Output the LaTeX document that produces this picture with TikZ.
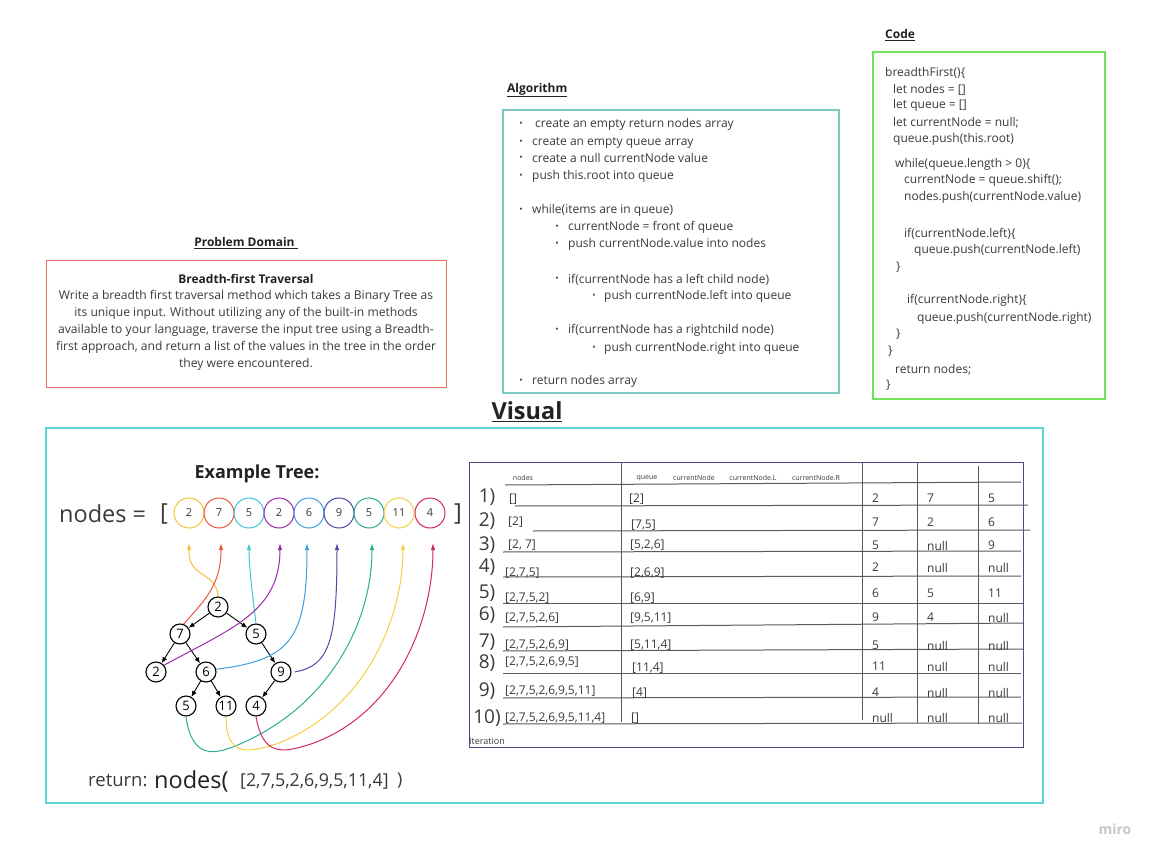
\documentclass[tikz,border=0pt]{standalone}
\usepackage{fontspec}
\setmainfont{Open Sans}
\usetikzlibrary{arrows.meta}
\definecolor{txtc}{HTML}{3A3A3A}
\definecolor{headc}{HTML}{222222}
\definecolor{probc}{HTML}{E2735F}
\definecolor{algc}{HTML}{7CC9C1}
\definecolor{codec}{HTML}{6FE35C}
\definecolor{visc}{HTML}{5ED6D8}
\definecolor{tabc}{HTML}{4A4A8C}
\definecolor{linec}{HTML}{5A5A5A}
\definecolor{cA}{HTML}{F5C33B}
\definecolor{cB}{HTML}{EA5A3C}
\definecolor{cC}{HTML}{40C6D6}
\definecolor{cD}{HTML}{9C2AB0}
\definecolor{cE}{HTML}{3E9FE0}
\definecolor{cF}{HTML}{4B4BA8}
\definecolor{cG}{HTML}{2BAE92}
\definecolor{cH}{HTML}{F4CF45}
\definecolor{cI}{HTML}{D6266A}
\tikzset{
  lt/.style={inner sep=0pt, anchor=west, yshift=-1.5pt, text=txtc, font=\fontsize{12}{14}\selectfont},
  ct/.style={inner sep=0pt, yshift=-1.5pt, text=txtc, font=\fontsize{12.1}{14}\selectfont},
  title/.style={inner sep=0pt, text=headc, font=\bfseries\fontsize{12}{14}\selectfont},
  bul/.style={inner sep=0pt, yshift=-1pt, text=txtc, font=\fontsize{9}{10}\selectfont},
  tnode/.style={circle, draw=black, line width=1.1pt, minimum size=20pt, inner sep=0pt, font=\fontsize{13}{14}\selectfont},
  arrnode/.style={circle, line width=1pt, minimum size=30pt, inner sep=0pt, text=txtc, font=\fontsize{11}{12}\selectfont},
  tedge/.style={black, line width=0.9pt, -{Latex[length=6pt,width=5pt]}},
  curve/.style={line width=1pt, -{Latex[length=7pt,width=4.5pt]}},
  tv/.style={inner sep=0pt, anchor=west, yshift=-1.5pt, text=txtc, font=\fontsize{12}{14}\selectfont},
  tl/.style={inner sep=0pt, yshift=-1.5pt, text=txtc, font=\fontsize{19}{20}\selectfont},
  hd/.style={inner sep=0pt, text=txtc, font=\fontsize{7}{8}\selectfont},
  tline/.style={linec, line width=1pt}
}
\begin{document}
\begin{tikzpicture}[x=1pt,y=-1pt]
\useasboundingbox[fill=white] (0,0) rectangle (1160,861);

% ---------- Problem domain ----------
\node[title] (pdt) at (246,243) {\underline{Problem Domain\ }};
\draw[probc, line width=1pt] (46,261) rectangle (446,387);
\node[ct, font=\bfseries\fontsize{12}{14}\selectfont, text=headc] (pd0) at (246,277) {Breadth-first Traversal};
\node[ct] (pd1) at (246,295) {Write a breadth first traversal method which takes a Binary Tree as};
\node[ct] (pd2) at (246,312) {its unique input. Without utilizing any of the built-in methods};
\node[ct] (pd3) at (246,329) {available to your language, traverse the input tree using a Breadth-};
\node[ct] (pd4) at (246,346) {first approach, and return a list of the values in the tree in the order};
\node[ct] (pd5) at (246,363) {they were encountered.};

% ---------- Algorithm ----------
\node[title, anchor=west] (algt) at (507,90) {\underline{Algorithm}};
\draw[algc, line width=1.3pt] (503,110) rectangle (839,393);
\foreach \n/\bx/\tx/\y/\t in {
  a1/521/535/123/{create an empty return nodes array},
  a2/521/532/141/{create an empty queue array},
  a3/521/532/157/{create a null currentNode value},
  a4/521/532/175/{push this.root into queue},
  a5/521/532/209/{while(items are in queue)},
  a6/557/568/226/{currentNode = front of queue},
  a7/557/568/243/{push currentNode.value into nodes},
  a8/557/568/278/{if(currentNode has a left child node)},
  a9/594/604/295/{push currentNode.left into queue},
  a10/557/568/329/{if(currentNode has a rightchild node)},
  a11/594/604/347/{push currentNode.right into queue},
  a12/521/532/380/{return nodes array}}{
  \node[bul] (b\n) at (\bx,\y) {•};
  \node[lt] (\n) at (\tx,\y) {\t};
}

% ---------- Code ----------
\node[title, anchor=west] (codet) at (885,35) {\underline{Code}};
\draw[codec, line width=1.3pt] (873,52) rectangle (1105,399);
\foreach \n/\x/\y/\t in {
  k1/885/71/{breadthFirst()\{},
  k2/893/88/{let nodes = []},
  k3/893/104/{let queue = []},
  k4/893/121/{let currentNode = null;},
  k5/893/138/{queue.push(this.root)},
  k6/895/163/{while(queue.length > 0)\{},
  k7/904/179/{currentNode = queue.shift();},
  k8/904/196/{nodes.push(currentNode.value)},
  k9/904/232/{if(currentNode.left)\{},
  k10/914/249/{queue.push(currentNode.left)},
  k11/896/266/{\}},
  k12/907/299/{if(currentNode.right)\{},
  k13/917/317/{queue.push(currentNode.right)},
  k14/896/333/{\}},
  k15/888/350/{\}},
  k16/895/368/{return nodes;},
  k17/886/384/{\}}}{
  \node[lt] (\n) at (\x,\y) {\t};
}

% ---------- Visual ----------
\node[inner sep=0pt, text=headc, font=\bfseries\fontsize{23.5}{26}\selectfont] (vist) at (527,412) {\underline{Visual}};
\draw[visc, line width=1.2pt] (46,428) rectangle (1043,803);

\node[inner sep=0pt, text=headc, font=\bfseries\fontsize{18}{20}\selectfont] (ext) at (257,474) {Example Tree:};
\node[inner sep=0pt, anchor=west, text=txtc, font=\fontsize{23.5}{26}\selectfont] (neq) at (59,514) {nodes =};
\node[inner sep=0pt, text=txtc, font=\fontsize{23.5}{26}\selectfont] (lb) at (164,514) {[};
\node[inner sep=0pt, text=txtc, font=\fontsize{23.5}{26}\selectfont] (rb) at (458,514) {]};

\foreach \i/\x/\v/\c in {1/189/2/cA, 2/219/7/cB, 3/249/5/cC, 4/279/2/cD, 5/309/6/cE, 6/339/9/cF, 7/369/5/cG, 8/399/11/cH, 9/430/4/cI}{
  \node[arrnode, draw=\c] (q\i) at (\x,513) {\v};
}
\foreach \i/\x in {1/189, 2/221, 3/249, 4/280, 5/307, 6/337, 7/372, 8/403, 9/433}{
  \coordinate (t\i) at (\x,543);
}

% tree
\node[tnode] (r) at (218,607) {2};
\node[tnode] (n7) at (180,634) {7};
\node[tnode] (n5) at (256,634) {5};
\node[tnode] (n2) at (156,672) {2};
\node[tnode] (n6) at (206,672) {6};
\node[tnode] (n9) at (281,672) {9};
\node[tnode] (m5) at (186,706) {5};
\node[tnode] (m11) at (226,706) {11};
\node[tnode] (m4) at (256,706) {4};
\draw[tedge] (r) -- (n7);
\draw[tedge] (r) -- (n5);
\draw[tedge] (n7) -- (n2);
\draw[tedge] (n7) -- (n6);
\draw[tedge] (n5) -- (n9);
\draw[tedge] (n6) -- (m5);
\draw[tedge] (n6) -- (m11);
\draw[tedge] (n9) -- (m4);

% coloured curves
\draw[curve, cA] (r.north) .. controls (217,572) and (189,578) .. (189,552) -- (t1);
\draw[curve, cB] (n7.70) .. controls (205,600) and (221,585) .. (t2);
\draw[curve, cC] (n5.north) .. controls (252,592) and (249,565) .. (t3);
\draw[curve, cD] (n2.40) .. controls (232,628) and (280,612) .. (t4);
\draw[curve, cE] (n6.15) .. controls (290,660) and (307,640) .. (t5);
\draw[curve, cF] ([xshift=3pt]n9.east) .. controls (330,666) and (337,640) .. (t6);
\draw[curve, cG] (m5.south) .. controls (192,760) and (215,755) .. (240,744) .. controls (330,705) and (372,622) .. (t7);
\draw[curve, cH] (m11.south) .. controls (226,757) and (248,753) .. (276,744) .. controls (362,712) and (403,622) .. (t8);
\draw[curve, cI] (m4.south) .. controls (263,757) and (283,753) .. (311,744) .. controls (396,714) and (433,622) .. (t9);

% return line
\node[inner sep=0pt, anchor=west, text=txtc, font=\fontsize{18.5}{20}\selectfont] (ret) at (88,781) {return:};
\node[inner sep=0pt, anchor=west, text=headc, font=\fontsize{23.5}{26}\selectfont] (retn) at (154,781) {nodes(};
\node[inner sep=0pt, anchor=west, text=txtc, font=\fontsize{17.8}{20}\selectfont] (retv) at (240,781) {[2,7,5,2,6,9,5,11,4]};
\node[inner sep=0pt, anchor=west, text=txtc, font=\fontsize{17.8}{20}\selectfont] (retp) at (397,781) {)};

% ---------- Table ----------
\draw[tabc, line width=1pt] (469,462) rectangle (1023,747);
\draw[tline] (621,462) -- (621,722);
\draw[tline] (862,462) -- (862,720);
\draw[tline] (917,462) -- (917,723);
\draw[tline] (978,466) -- (978,724);
\foreach \xa/\ya/\xb/\yb in {505/485/1021/482, 515/506/1028/505, 533/531/1030/530, 503/552/1021/551, 503/577/1021/576, 503/603/1023/603, 503/627/1023/623, 503/651/1023/649, 503/673/1021/673, 503/698/1021/697, 503/724/1022/723}{
  \draw[tline] (\xa,\ya) -- (\xb,\yb);
}
\node[hd] (h1) at (523,478) {nodes};
\node[hd] (h2) at (647,478) {queue};
\node[hd] (h3) at (694,478) {currentNode};
\node[hd] (h4) at (753,478) {currentNode.L};
\node[hd] (h5) at (816,478) {currentNode.R};
\node[hd, anchor=west, font=\fontsize{9}{10}\selectfont] (h6) at (469,741) {Iteration};

\foreach \i/\ly/\nx/\ny/\nt/\qx/\qy/\qt/\vy/\va/\vb/\vc in {
  1/496/509/498/{[]}/629/498/{[2]}/497/2/7/5,
  2/520/508/521/{[2]}/631/524/{[7,5]}/521/7/2/6,
  3/544/508/544/{[2, 7]}/630/544/{[5,2,6]}/544/5/null/9,
  4/566/505/572/{[2,7,5]}/630/572/{[2,6,9]}/566/2/null/null,
  5/592/505/597/{[2,7,5,2]}/630/597/{[6,9]}/592/6/5/11,
  6/614/505/617/{[2,7,5,2,6]}/630/617/{[9,5,11]}/616/9/4/null,
  7/641/505/644/{[2,7,5,2,6,9]}/630/644/{[5,11,4]}/644/ 5/null/null,
  8/662/505/661/{[2,7,5,2,6,9,5]}/632/667/{[11,4]}/665/11/null/null,
  9/690/505/690/{[2,7,5,2,6,9,5,11]}/632/692/{[4]}/691/4/null/null,
  10/717/505/717/{[2,7,5,2,6,9,5,11,4]}/631/717/{[]}/716/null/null/null}{
  \node[tl] (rl\i) at (487,\ly) {\i)};
  \node[tv] (rn\i) at (\nx,\ny) {\nt};
  \node[tv] (rq\i) at (\qx,\qy) {\qt};
  \node[tv] (va\i) at (872,\vy) {\va};
  \node[tv] (vb\i) at (927,\vy) {\vb};
  \node[tv] (vc\i) at (988,\vy) {\vc};
}

% watermark
\node[inner sep=0pt, text=black!22, font=\bfseries\fontsize{14}{16}\selectfont] (miro) at (1115,829) {miro};
\end{tikzpicture}
\end{document}
